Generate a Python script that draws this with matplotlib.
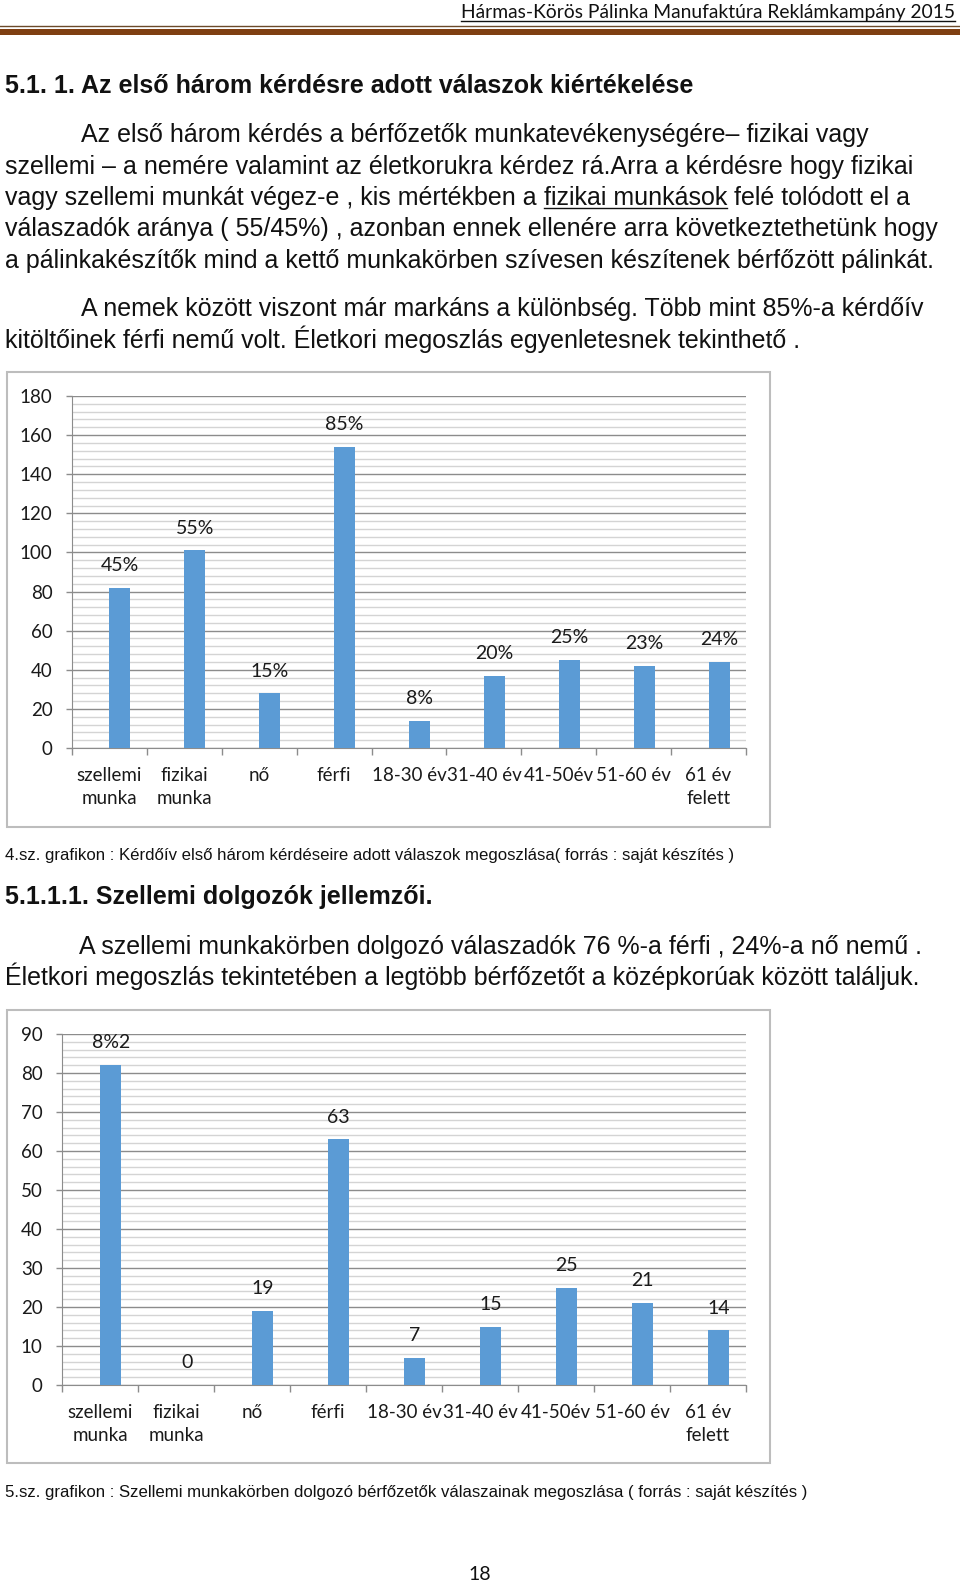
import numpy as np
import matplotlib.pyplot as plt
from matplotlib.patches import Rectangle
from matplotlib.lines import Line2D
from matplotlib.ticker import MultipleLocator

# ADATOK
kategoriak = ['szellemi\nmunka', 'fizikai\nmunka', 'nő', 'férfi', '18-30 év',
              '31-40 év', '41-50év', '51-60 év', '61 év\nfelett']
osszes = [82, 101, 28, 154, 14, 37, 45, 42, 44]
osszes_cimke = ['45%', '55%', '15%', '85%', '8%', '20%', '25%', '23%', '24%']
szellemi = [82, 0, 19, 63, 7, 15, 25, 21, 14]
szellemi_cimke = ['8%2', '0', '19', '63', '7', '15', '25', '21', '14']

W, H = 960, 1584
BODY = ['Liberation Sans Narrow', 'Liberation Sans', 'DejaVu Sans']
CHART = ['Lato', 'DejaVu Sans']
SZURKE = '#8c8c8c'
BETU = 18

fig = plt.figure(figsize=(W / 100, H / 100), dpi=100)
renderer = fig.canvas.get_renderer()


def fx(x):
    return x / W


def fy(y):
    return 1 - y / H


def txt(x, y, s, size, family=BODY, **kw):
    return fig.text(fx(x), fy(y), s, fontsize=size, family=family,
                    va='baseline', color='#111111', **kw)


def alahuz(t, y, lw=1.0):
    bb = t.get_window_extent(renderer)
    fig.add_artist(Line2D([bb.x0 / W, bb.x1 / W], [fy(y), fy(y)],
                          transform=fig.transFigure, color='#111111', lw=lw))


def grafikon(tengely, keret, ertekek, cimkek, ymax, nagy, kicsi):
    l, t, r, b = tengely
    ax = fig.add_axes([fx(l), fy(b), (r - l) / W, (b - t) / H])
    x = np.arange(len(ertekek))
    ax.bar(x + 0.14, ertekek, width=0.28, color='#5b9bd5', zorder=3)
    for xi, v, c in zip(x, ertekek, cimkek):
        ax.annotate(c, (xi + 0.14, v), xytext=(0, 16), textcoords='offset points',
                    ha='center', va='center', fontsize=14, family=CHART,
                    color='#1a1a1a')
    ax.set_xlim(-0.5, len(ertekek) - 0.5)
    ax.set_ylim(0, ymax)
    ax.yaxis.set_major_locator(MultipleLocator(nagy))
    ax.yaxis.set_minor_locator(MultipleLocator(kicsi))
    ax.grid(axis='y', which='major', color=SZURKE, lw=1, zorder=0)
    ax.grid(axis='y', which='minor', color='#d4d4d4', lw=1, zorder=0)
    ax.set_xticks(x)
    ax.set_xticklabels(kategoriak, family=CHART, fontsize=13.5, color='#1a1a1a',
                       linespacing=1.42, va='top')
    ax.set_xticks(np.arange(len(ertekek) + 1) - 0.5, minor=True)
    ax.tick_params(axis='x', which='major', length=0, pad=14)
    ax.tick_params(axis='x', which='minor', length=5, color=SZURKE, width=1)
    ax.tick_params(axis='y', which='major', length=4, color=SZURKE, width=1, pad=10,
                   labelsize=13.5, labelcolor='#1a1a1a')
    ax.tick_params(axis='y', which='minor', length=0)
    for lab in ax.get_yticklabels():
        lab.set_family(CHART)
    for s in ['top', 'right']:
        ax.spines[s].set_visible(False)
    for s in ['left', 'bottom']:
        ax.spines[s].set_color(SZURKE)
    kl, kt, kr, kb = keret
    fig.add_artist(Rectangle((fx(kl), fy(kb)), (kr - kl) / W, (kb - kt) / H,
                             transform=fig.transFigure, fill=False,
                             ec='#bdbdbd', lw=1.5))
    return ax


# FEJLEC
fej = txt(955, 18, 'Hármas-Körös Pálinka Manufaktúra Reklámkampány 2015', 13.9,
          family=CHART, ha='right')
alahuz(fej, 21)
fig.add_artist(Line2D([0, 1], [fy(25.7), fy(25.7)], transform=fig.transFigure,
                      color='#6b4a2a', lw=1))
fig.add_artist(Rectangle((0, fy(35.3)), 1, 6.3 / H, transform=fig.transFigure,
                         color='#7f3f12', lw=0))

# SZOVEG
txt(5, 93, '5.1. 1. Az első három kérdésre adott válaszok kiértékelése', BETU,
    fontweight='bold')
sorok = [
    (81, 142, 'Az első három kérdés a bérfőzetők munkatevékenységére– fizikai vagy'),
    (5, 174, 'szellemi – a nemére valamint az életkorukra kérdez rá.Arra a kérdésre hogy fizikai'),
    (5, 236, 'válaszadók aránya ( 55/45%) , azonban ennek ellenére arra következtethetünk hogy'),
    (5, 268, 'a pálinkakészítők mind a kettő munkakörben szívesen készítenek bérfőzött pálinkát.'),
    (81, 316, 'A nemek között viszont már markáns a különbség. Több mint 85%-a kérdőív'),
    (5, 348, 'kitöltőinek férfi nemű volt. Életkori megoszlás egyenletesnek tekinthető .'),
]
for x, y, s in sorok:
    txt(x, y, s, BETU)
d1 = txt(5, 205, 'vagy szellemi munkát végez-e , kis mértékben a ', BETU)
x2 = d1.get_window_extent(renderer).x1
d2 = txt(x2, 205, 'fizikai munkások', BETU)
alahuz(d2, 208)
x3 = d2.get_window_extent(renderer).x1
txt(x3, 205, ' felé tolódott el a', BETU)

# GRAFIKONOK
grafikon((72, 396, 746, 748), (7, 372, 770, 827), osszes, osszes_cimke, 180, 20, 4)
txt(5, 860, '4.sz. grafikon : Kérdőív első három kérdéseire adott válaszok '
    'megoszlása( forrás : saját készítés )', 12.1)
txt(5, 904, '5.1.1.1. Szellemi dolgozók jellemzői.', BETU, fontweight='bold')
txt(79, 954, 'A szellemi munkakörben dolgozó válaszadók 76 %-a férfi , 24%-a nő nemű .', BETU)
txt(5, 985, 'Életkori megoszlás tekintetében a legtöbb bérfőzetőt a középkorúak között találjuk.', BETU)
grafikon((62, 1034, 746, 1385), (7, 1010, 770, 1463), szellemi, szellemi_cimke, 90, 10, 2)
txt(5, 1497, '5.sz. grafikon : Szellemi munkakörben dolgozó bérfőzetők válaszainak '
    'megoszlása ( forrás : saját készítés )', 12.1)
txt(480, 1580, '18', 14, family=CHART, ha='center')

fig.savefig('out.png', dpi=100)
